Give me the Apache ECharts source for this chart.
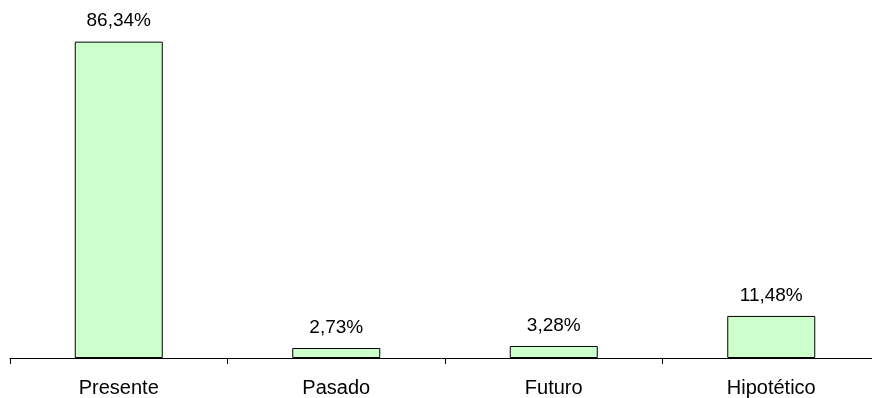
<!DOCTYPE html>
<html><head><meta charset="utf-8">
<script src="https://cdn.jsdelivr.net/npm/echarts@6/dist/echarts.min.js"></script>
<style>html,body{margin:0;padding:0;background:#fff}#c{width:872px;height:398px}</style>
</head><body><div id="c"></div>
<script>
var categories = ["Presente", "Pasado", "Futuro", "Hipotético"];
var values = [86.34, 2.73, 3.28, 11.48];

var chart = echarts.init(document.getElementById('c'), null, {renderer: 'canvas'});
chart.setOption({
  animation: false,
  grid: {left: 10, width: 870, top: 0, bottom: 40, containLabel: false, outerBoundsMode: 'none'},
  xAxis: {
    type: 'category', data: categories, boundaryGap: true,
    axisLine: {lineStyle: {color: '#000', width: 1}},
    axisTick: {show: true, length: 6, lineStyle: {color: '#000'}, alignWithLabel: false},
    axisLabel: {color: '#000', fontFamily: 'Liberation Sans, Arial', fontSize: 20, margin: 20}
  },
  yAxis: {type: 'value', min: 0, max: 97.7, show: false, splitLine: {show: false}},
  series: [{
    type: 'bar', data: values, barWidth: 88,
    itemStyle: {color: '#ccffcc', borderColor: '#000', borderWidth: 1},
    label: {show: true, position: 'top', distance: 11, color: '#000',
      fontFamily: 'Liberation Sans, Arial', fontSize: 19,
      formatter: function(p){ return p.value.toFixed(2).replace('.', ',') + '%'; }}
  }]
});
</script></body></html>
